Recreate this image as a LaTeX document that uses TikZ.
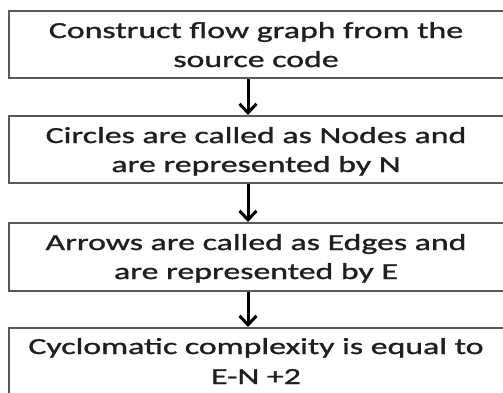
\documentclass[tikz,border=0pt]{standalone}
\usepackage{fontspec}
\newfontfamily\boxfont[FakeStretch=1.47,FakeBold=1.2]{Carlito}
\usetikzlibrary{arrows.meta}
\begin{document}
\begin{tikzpicture}[x=1pt,y=-1pt,
  boxstyle/.style={draw=black!65,line width=2.4pt,fill=none},
  linetext/.style={anchor=base,inner sep=0pt,font=\boxfont\fontsize{23pt}{28pt}\selectfont,text=black!88},
  flowarrow/.style={draw=black,line width=3pt,-{Straight Barb[length=9pt,width=17pt,line width=3pt]}}]
\useasboundingbox (0,0) rectangle (503,392);
\clip (0,0) rectangle (503,392);
\fill[white] (0,0) rectangle (503,392);
% boxes
\node[boxstyle,anchor=north west,minimum width=512pt,minimum height=67pt,inner sep=0pt] (b1) at (8,10) {};
\node[boxstyle,anchor=north west,minimum width=512pt,minimum height=67pt,inner sep=0pt] (b2) at (8,115) {};
\node[boxstyle,anchor=north west,minimum width=512pt,minimum height=68pt,inner sep=0pt] (b3) at (8,222) {};
\node[boxstyle,anchor=north west,minimum width=512pt,minimum height=90pt,inner sep=0pt] (b4) at (8,327) {};
% texts
\node[linetext] (t1a) at (256,38) {Construct flow graph from the};
\node[linetext] (t1b) at (256,67) {source code};
\node[linetext] (t2a) at (256,143) {Circles are called as Nodes and};
\node[linetext] (t2b) at (256,172) {are represented by N};
\node[linetext] (t3a) at (256,250) {Arrows are called as Edges and};
\node[linetext] (t3b) at (256,279) {are represented by E};
\node[linetext] (t4a) at (256,354) {Cyclomatic complexity is equal to};
\node[linetext] (t4b) at (256,384) {E-N +2};
% arrows
\coordinate (a1s) at (248,0 |- b1.south);
\coordinate (a1e) at (248,0 |- b2.north);
\coordinate (a2s) at (248,0 |- b2.south);
\coordinate (a2e) at (248,0 |- b3.north);
\coordinate (a3s) at (248,0 |- b3.south);
\coordinate (a3e) at (248,0 |- b4.north);
\draw[flowarrow] (a1s) -- (a1e);
\draw[flowarrow] (a2s) -- (a2e);
\draw[flowarrow] (a3s) -- (a3e);
\end{tikzpicture}
\end{document}
